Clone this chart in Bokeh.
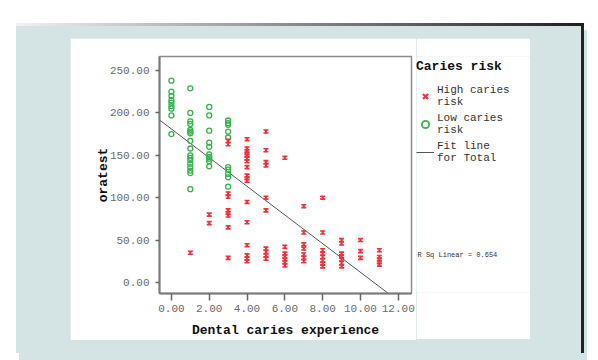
import numpy as np
from bokeh.plotting import figure
from bokeh.models import Range1d, PrintfTickFormatter, Legend, LegendItem, Label
from bokeh.layouts import column, row
from bokeh.embed import file_html
from bokeh.resources import INLINE

# ---- data ----
low_dmft = [0, 0, 0, 0, 0, 0, 0, 0, 0,
            1, 1, 1, 1, 1, 1, 1, 1, 1, 1, 1, 1, 1, 1, 1, 1, 1,
            2, 2, 2, 2, 2, 2, 2, 2, 2, 2,
            3, 3, 3, 3, 3, 3, 3, 3, 3, 3]
low_oratest = [238, 225, 220, 215, 212, 208, 205, 197, 175,
               229, 200, 190, 187, 180, 178, 176, 167, 158, 150, 147, 144, 140, 136, 132, 129, 110,
               207, 197, 179, 165, 160, 151, 148, 146, 143, 137,
               191, 188, 186, 178, 171, 136, 133, 128, 124, 113]

high_dmft = [1,
             2, 2,
             3, 3, 3, 3, 3, 3, 3, 3, 3,
             4, 4, 4, 4, 4, 4, 4, 4, 4, 4, 4, 4, 4, 4, 4, 4, 4,
             5, 5, 5, 5, 5, 5, 5, 5, 5, 5,
             6, 6, 6, 6, 6, 6, 6,
             7, 7, 7, 7, 7, 7, 7,
             8, 8, 8, 8, 8, 8, 8, 8,
             9, 9, 9, 9, 9, 9, 9,
             10, 10, 10,
             11, 11, 11, 11, 11]
high_oratest = [35,
                80, 70,
                167, 163, 105, 101, 85, 82, 79, 65, 29,
                169, 158, 155, 152, 150, 146, 143, 136, 126, 123, 120, 95, 71, 44, 32, 28, 25,
                178, 156, 142, 138, 100, 85, 40, 36, 32, 28,
                147, 42, 34, 31, 27, 24, 20,
                90, 59, 45, 40, 33, 29, 25,
                100, 59, 38, 34, 30, 26, 22, 19,
                50, 46, 34, 31, 27, 23, 19,
                50, 37, 29,
                38, 30, 27, 24, 21]

x_ticks = [0, 2, 4, 6, 8, 10, 12]
y_ticks = [0, 50, 100, 150, 200, 250]

fit_intercept = 181.0
fit_slope = -16.9
r_sq_linear = 0.654

legend_title = "Caries risk"
label_high = "High caries\nrisk"
label_low = "Low caries\nrisk"
label_fit = "Fit line\nfor Total"

# ---- styles ----
RED = "#f0323c"
GREEN = "#36b34a"
FIT = "#555555"
FONT = "Liberation Mono"

p = figure(frame_width=252, frame_height=237,
           x_range=Range1d(-0.63, 12.7), y_range=Range1d(-13, 266.5),
           output_backend="svg", toolbar_location=None,
           min_border_left=89, min_border_right=5,
           min_border_top=18, min_border_bottom=46,
           background_fill_color="white", border_fill_color="white",
           margin=(15, 0, 13, 54))
p.grid.visible = False
p.outline_line_color = "#8c8c8c"
p.outline_line_width = 1.5

for ax in (p.xaxis, p.yaxis):
    ax.axis_line_color = "#7a7a7a"
    ax.axis_line_width = 2
    ax.major_tick_line_color = "#666666"
    ax.major_tick_line_width = 1.5
    ax.major_tick_in = 0
    ax.minor_tick_line_color = None
    ax.major_label_text_font = FONT
    ax.major_label_text_font_size = "11px"
    ax.major_label_text_color = "#6a6a6a"
    ax.axis_label_text_font = FONT
    ax.axis_label_text_font_size = "13px"
    ax.axis_label_text_font_style = "bold"
    ax.axis_label_text_color = "#111111"
    ax.formatter = PrintfTickFormatter(format="%.2f")

p.xaxis.ticker = x_ticks
p.yaxis.ticker = y_ticks
p.xaxis.major_tick_out = 7
p.yaxis.major_tick_out = 4
p.xaxis.major_label_standoff = 4
p.yaxis.major_label_standoff = 6
p.xaxis.axis_label = "Dental caries experience"
p.yaxis.axis_label = "oratest"
p.xaxis.axis_label_standoff = 8
p.yaxis.axis_label_standoff = -4

# fit line
fx = np.array([p.x_range.start, p.x_range.end])
p.line(fx, fit_intercept + fit_slope * fx, line_color=FIT, line_width=1)

# low caries risk: open circles
p.scatter(low_dmft, low_oratest, marker="circle", size=5, fill_color=None,
          line_color=GREEN, line_width=1.3)

# high caries risk: small hourglass-like "I" markers
hx = np.array(high_dmft, dtype=float)
hy = np.array(high_oratest, dtype=float)
bar_dy = 1.75
p.scatter(hx, hy + bar_dy, marker="dash", size=5, line_color=RED, line_width=1.6)
p.scatter(hx, hy - bar_dy, marker="dash", size=5, line_color=RED, line_width=1.6)
p.scatter(hx, hy, marker="dash", angle=np.pi / 2, size=3.5, line_color=RED, line_width=2.2)

# ---- side panel holding the legend and the R-squared note ----
side = figure(width=114, height=301, x_range=Range1d(0, 114), y_range=Range1d(0, 301),
              output_backend="svg", toolbar_location=None,
              x_axis_type=None, y_axis_type=None,
              min_border=0, min_border_left=0, min_border_right=0,
              min_border_top=0, min_border_bottom=0,
              background_fill_color="white", border_fill_color="white",
              outline_line_color=None, margin=(15, 54, 13, 0))
side.grid.visible = False

# legend-only renderers (a single missing point each, so nothing is plotted)
nan_pt = [np.nan]
r_high = side.scatter(nan_pt, nan_pt, marker="x", size=8, line_color=RED, line_width=2.2)
r_low = side.scatter(nan_pt, nan_pt, marker="circle", size=8, fill_color=None,
                     line_color=GREEN, line_width=1.8)
r_fit = side.line(nan_pt, nan_pt, line_color=FIT, line_width=1)

legend = Legend(items=[LegendItem(label=label_high, renderers=[r_high]),
                       LegendItem(label=label_low, renderers=[r_low]),
                       LegendItem(label=label_fit, renderers=[r_fit])],
                location=(0, 128), title=legend_title,
                title_text_font=FONT, title_text_font_size="13px",
                title_text_font_style="bold", title_text_color="#111111",
                title_standoff=10,
                label_text_font=FONT, label_text_font_size="11px",
                label_text_color="#333333", label_text_line_height=0.68,
                glyph_width=18, glyph_height=18, label_standoff=3,
                spacing=4, padding=0, margin=0,
                border_line_color=None, background_fill_alpha=0)
side.add_layout(legend)

side.add_layout(Label(x=1, y=48, text=f"R Sq Linear = {r_sq_linear:.3f}",
                      text_font=FONT, text_font_size="7px", text_color="#333333",
                      text_baseline="middle"))

page = column(row(p, side), margin=(23, 0, 0, 16), styles={
    "background": ("linear-gradient(to right, #f2f2f2, #1e1e1e) top left / 100% 3px no-repeat, "
                   "linear-gradient(#222222, #222222) top right / 3px 100% no-repeat, #d4e3e3"),
    "box-shadow": "3px 7px 0 0 #d4e3e3",
})

open("out.html", "w").write(file_html(page, INLINE))
